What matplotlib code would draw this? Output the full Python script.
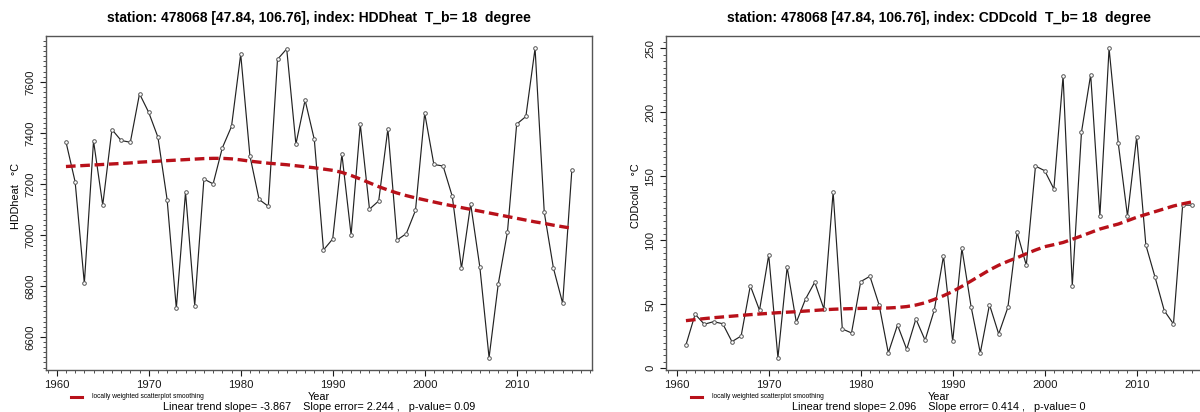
import numpy as np
import matplotlib
matplotlib.use("Agg")
import matplotlib.pyplot as plt
from matplotlib.ticker import MultipleLocator, AutoMinorLocator

plt.rcParams['font.family'] = ['Liberation Sans', 'DejaVu Sans']

# years of record
years = list(range(1961, 2017))

# heating degree days
hdd = [7365, 7208, 6810, 7368, 7117, 7413, 7370, 7363, 7553, 7480,
       7383, 7138, 6712, 7167, 6723, 7219, 7200, 7341, 7425, 7708,
       7310, 7139, 7112, 7688, 7729, 7356, 7528, 7374, 6941, 6984,
       7316, 7000, 7433, 7101, 7133, 7416, 6980, 7005, 7096, 7477,
       7276, 7270, 7151, 6869, 7121, 6873, 6519, 6808, 7012, 7434,
       7464, 7731, 7088, 6869, 6732, 7255]
hdd_loess = [7268, 7270, 7272, 7274, 7276, 7278, 7280, 7282, 7285, 7287,
             7289, 7291, 7293, 7295, 7297, 7299, 7300, 7300, 7298, 7294,
             7289, 7285, 7281, 7278, 7275, 7271, 7267, 7263, 7258, 7253,
             7245, 7233, 7219, 7204, 7189, 7176, 7164, 7154, 7145, 7137,
             7129, 7121, 7114, 7107, 7100, 7093, 7086, 7079, 7072, 7065,
             7058, 7051, 7045, 7038, 7032, 7026]

# cooling degree days
cdd = [18.2, 42.2, 34.4, 36.4, 34.8, 20.8, 25.2, 64.5, 45.3, 88.5,
       8.3, 78.9, 35.9, 54.1, 67.2, 46.3, 137.7, 30.7, 27.6, 67.7,
       71.9, 49.5, 12.0, 33.8, 14.8, 38.5, 21.9, 45.5, 87.7, 21.1,
       93.7, 48.1, 12.0, 49.7, 26.8, 47.6, 106.2, 80.5, 158.0, 154.4,
       140.1, 228.4, 64.5, 184.5, 229.4, 119.0, 250.0, 175.8, 119.0, 180.7,
       96.3, 71.1, 45.0, 34.6, 127.6, 127.4]
cdd_loess = [37.2, 38.0, 38.8, 39.5, 40.1, 40.7, 41.3, 41.9, 42.4, 42.9,
             43.4, 43.8, 44.2, 44.7, 45.2, 45.7, 46.1, 46.4, 46.6, 46.8,
             46.9, 47.0, 47.1, 47.5, 48.2, 49.4, 51.2, 53.8, 56.7, 60.0,
             64.0, 68.2, 72.5, 76.8, 80.5, 83.6, 86.4, 89.5, 92.4, 95.0,
             96.6, 98.3, 100.8, 103.4, 106.1, 108.8, 110.8, 112.7, 115.3, 118.0,
             120.2, 122.4, 124.6, 126.8, 128.5, 130.0]

panels = [
    dict(vals=hdd, loess=hdd_loess, name="HDDheat", ylab="HDDheat   \u00b0C",
         yticks=[6600, 6800, 7000, 7200, 7400, 7600],
         trend="Linear trend slope= -3.867    Slope error= 2.244 ,   p-value= 0.09"),
    dict(vals=cdd, loess=cdd_loess, name="CDDcold", ylab="CDDcold   \u00b0C",
         yticks=[0, 50, 100, 150, 200, 250],
         trend="Linear trend slope= 2.096    Slope error= 0.414 ,   p-value= 0"),
]

W, H = 1200, 412
fig = plt.figure(figsize=(W / 100, H / 100), dpi=100)
fig.patch.set_facecolor("white")

lefts = [45.7, 665.7]
ax_w = 546.4
top_px, bot_px = 36, 370
red = "#b8111a"

for p, lp in zip(panels, lefts):
    ax = fig.add_axes([lp / W, 1 - bot_px / H, ax_w / W, (bot_px - top_px) / H])
    v = np.array(p["vals"], dtype=float)
    lo, hi = v.min(), v.max()
    pad = (hi - lo) * 0.04
    ax.set_ylim(lo - pad, hi + pad)
    ax.set_xlim(1958.8, 2018.2)

    ax.plot(years, v, color="#222222", lw=0.85, zorder=2)
    ax.plot(years, v, ls="none", marker="o", ms=2.6, mfc="white",
            mec="#555555", mew=0.7, zorder=3)
    ax.plot(years, p["loess"], color=red, lw=2.4, ls=(0, (2.9, 1.4)),
            dash_capstyle="butt", zorder=4)

    ax.set_yticks(p["yticks"])
    ax.yaxis.set_minor_locator(AutoMinorLocator(10))
    ax.set_xticks([1960, 1970, 1980, 1990, 2000, 2010])
    ax.xaxis.set_minor_locator(MultipleLocator(1))
    ax.tick_params(which="major", length=4, width=0.8, labelsize=8.2, colors="#1a1a1a")
    ax.tick_params(which="minor", length=2, width=0.6, colors="#333333")
    for lbl in ax.get_yticklabels():
        lbl.set_rotation(90)
        lbl.set_va("center")
    for s in ax.spines.values():
        s.set_color("#555555")
        s.set_linewidth(1.0)

    cx = (lp + ax_w / 2) / W
    ax.set_title("station: 478068 [47.84, 106.76], index: " + p["name"] + "  T_b= 18  degree",
                 fontsize=10, fontweight="bold", pad=10)
    fig.text((lp - 30) / W, 1 - 196 / H, p["ylab"], rotation=90, ha="center", va="center",
             fontsize=7.8)

    # legend-like line and label below the plot
    fig.lines.append(plt.Line2D([(lp + 25) / W, (lp + 36) / W], [1 - 397 / H, 1 - 397 / H],
                                transform=fig.transFigure, color=red, lw=2.2))
    fig.text((lp + 46) / W, 1 - 397 / H, "locally weighted scatterplot smoothing",
             fontsize=4.8, va="center", ha="left")
    fig.text(cx, 1 - 397 / H, "Year", fontsize=7.8, ha="center", va="center")
    fig.text(cx, 1 - 406.5 / H, p["trend"], fontsize=7.8, ha="center", va="center")

fig.savefig("out.png", dpi=100, facecolor="white")
